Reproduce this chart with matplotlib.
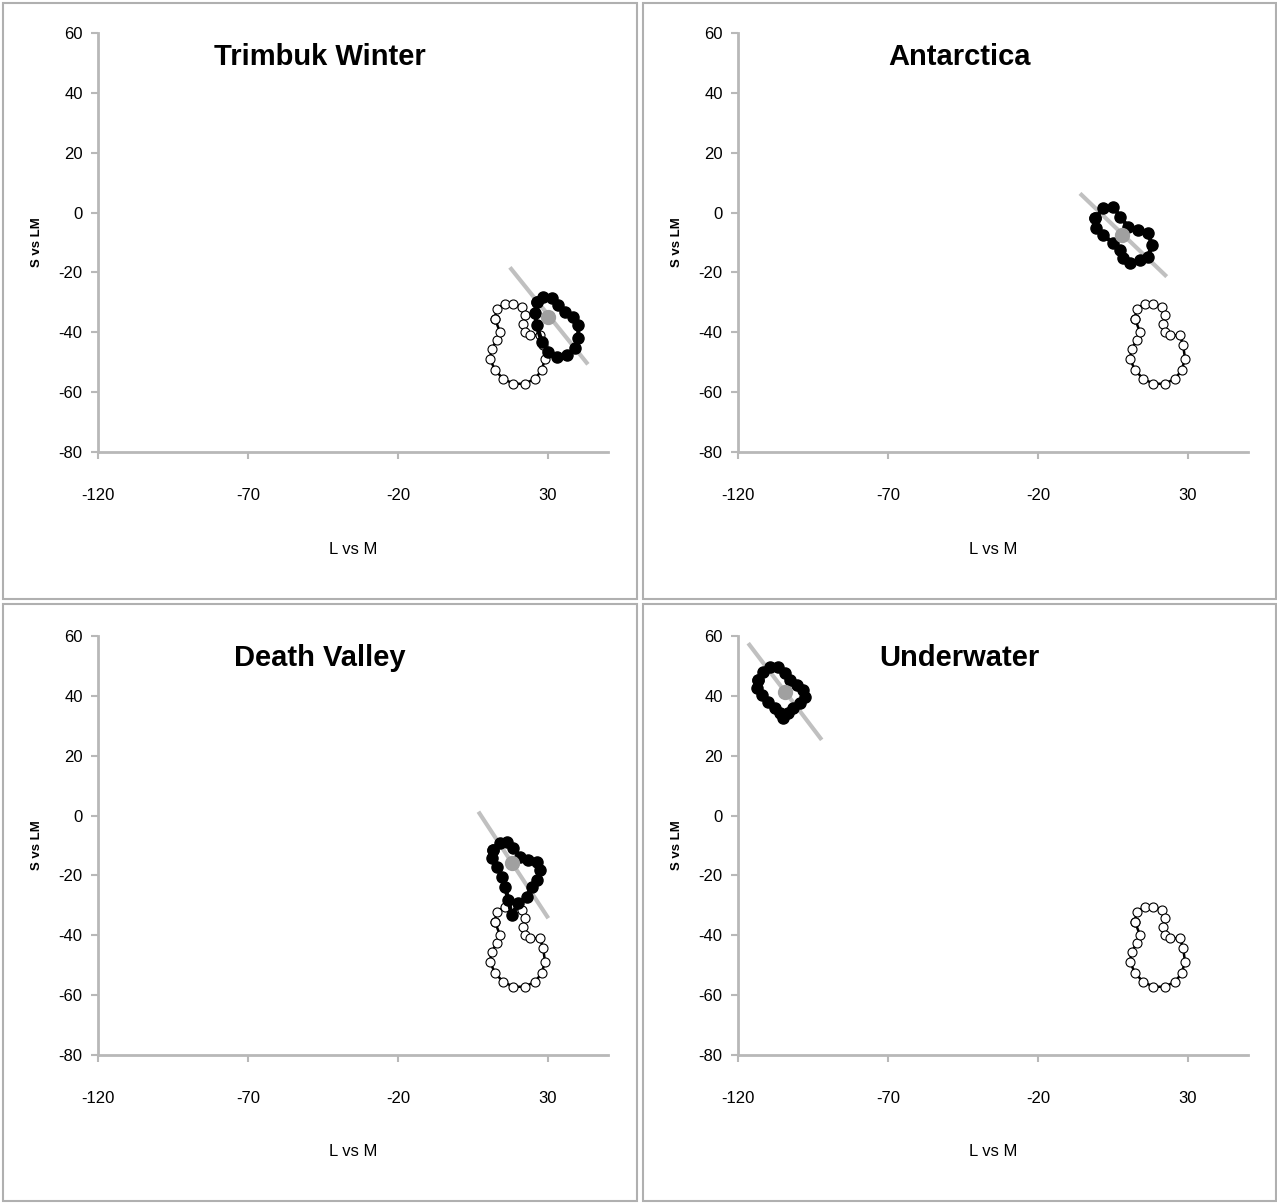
import matplotlib
matplotlib.use("Agg")
import matplotlib.pyplot as plt
from matplotlib.patches import Rectangle

plt.rcParams['font.family'] = ['Liberation Sans', 'DejaVu Sans']
plt.rcParams['axes.unicode_minus'] = False

W, H = 1277, 1203

titles = ['Trimbuk Winter', 'Antarctica', 'Death Valley', 'Underwater']

# reference outline (open circles), same in every panel
ref_x = [12.3, 12.9, 15.7, 18.4, 21.2, 22.3, 21.8, 22.3, 24, 27.3, 28.4, 29, 27.9, 25.7, 22.3, 18.4,
         15.1, 12.3, 10.7, 11.2, 12.9, 14, 12.3]
ref_y = [-35.5, -32.1, -30.4, -30.4, -31.5, -34.3, -37.1, -39.9, -41, -41, -44.4, -48.8, -52.7, -55.5,
         -57.2, -57.2, -55.5, -52.7, -48.8, -45.5, -42.7, -39.9, -35.5]

# filled outlines per panel
shape_x = [
    [26.2, 28.4, 31.2, 33.4, 35.7, 38.4, 40.1, 40.1, 39, 36.2, 32.9, 30.1, 27.9, 26.2, 25.7, 26.2],
    [-1, 1.8, 5.1, 7.3, 10.1, 13.4, 16.8, 17.9, 16.8, 14, 10.7, 8.4, 7.3, 5.1, 1.8, -0.7, -1],
    [11.8, 14, 16.2, 18.4, 20.7, 23.4, 26.2, 27.3, 26.2, 24.6, 22.9, 20.1, 17.9, 16.8, 15.7, 14.6, 12.9, 11.2, 11.8],
    [-113.2, -111.6, -109.3, -106.6, -104.3, -102.7, -100.4, -98.2, -97.7, -99.3, -101.6, -103.2, -104.9,
     -106, -107.7, -109.9, -112.1, -113.6, -113.2],
]
shape_y = [
    [-29.8, -28.1, -28.6, -30.9, -33.1, -34.8, -37.6, -42, -45.4, -47.6, -48.2, -46.5, -43.1, -37.6, -33.7, -29.8],
    [-1.9, 1.4, 2.0, -1.4, -4.7, -5.8, -6.9, -10.8, -14.7, -15.8, -16.9, -15.3, -12.5, -10.3, -7.5, -5.3, -1.9],
    [-11.5, -9.3, -8.7, -10.9, -13.7, -14.8, -15.4, -18.2, -21.5, -23.8, -27.1, -29.3, -33.2, -28.2, -23.8,
     -20.5, -17.1, -14.3, -11.5],
    [45.3, 48.1, 49.7, 49.7, 47.5, 45.3, 43.6, 42, 39.7, 37.5, 35.8, 34.2, 32.5, 34.2, 35.8, 38.1, 40.3, 42.5, 45.3],
]

# centre points and fitted lines
center_x = [30.1, 7.9, 17.9, -104.3]
center_y = [-34.8, -7.5, -15.9, 41.4]
line_x = [[17.3, 43.3], [-6, 22.9], [6.8, 30.1], [-116.6, -92.1]]
line_y = [[-18.3, -50.7], [6.4, -21.4], [1.3, -34.3], [57.6, 25.3]]

xticks = [-120, -70, -20, 30]
yticks = [-80, -60, -40, -20, 0, 20, 40, 60]

fig = plt.figure(figsize=(W / 100, H / 100), dpi=100)

# chart boxes and plot areas in pixels (left, top, right, bottom)
boxes = [(3, 3, 637, 599), (643, 3, 1276, 599), (3, 604, 637, 1201), (643, 604, 1276, 1201)]
axes_px = [(98, 33, 608, 452), (738, 33, 1248, 452), (98, 636, 608, 1055), (738, 636, 1248, 1055)]

for i in range(4):
    x0, y0, x1, y1 = boxes[i]
    fig.patches.append(Rectangle((x0 / W, 1 - y1 / H), (x1 - x0) / W, (y1 - y0) / H,
                                 transform=fig.transFigure, fill=False, edgecolor='#b0b0b0', lw=1.5))
    fig.text((x0 + x1) / 2 / W, 1 - (y0 + 54) / H, titles[i], ha='center', va='center',
             fontsize=21, fontweight='bold')

    a0, b0, a1, b1 = axes_px[i]
    aw, ah = a1 - a0, b1 - b0
    ax = fig.add_axes([a0 / W, 1 - b1 / H, aw / W, ah / H])
    ax.set_xlim(-120, 50)
    ax.set_ylim(-80, 60)
    ax.set_xticks(xticks)
    ax.set_yticks(yticks)
    for s in ['top', 'right']:
        ax.spines[s].set_visible(False)
    for s in ['left', 'bottom']:
        ax.spines[s].set_color('#b8b8b8')
        ax.spines[s].set_linewidth(2)
    ax.tick_params(axis='x', direction='out', length=5, width=1.5, color='#b8b8b8', pad=21, labelsize=12)
    ax.tick_params(axis='y', direction='out', length=5, width=1.5, color='#b8b8b8', pad=6, labelsize=12)
    ax.set_xlabel('L vs M', fontsize=12, va='center')
    ax.xaxis.set_label_coords(0.5, -97 / ah)
    ax.set_ylabel('S vs LM', fontsize=9.5, fontweight='bold', va='center')
    ax.yaxis.set_label_coords(-61 / aw, 0.5)
    ax.patch.set_alpha(0)

    ax.plot(line_x[i], line_y[i], color='#c0c0c0', lw=3, solid_capstyle='butt', zorder=2)
    ax.plot(ref_x, ref_y, color='black', lw=1.8, marker='o', ms=6.5, mfc='white', mec='black', mew=0.8, zorder=3)
    ax.plot(shape_x[i], shape_y[i], color='black', lw=3, marker='o', ms=8, mfc='black', mec='black', zorder=4)
    ax.plot(center_x[i], center_y[i], 'o', color='#a0a0a0', ms=10, zorder=5)

fig.savefig('out.png', dpi=100)
